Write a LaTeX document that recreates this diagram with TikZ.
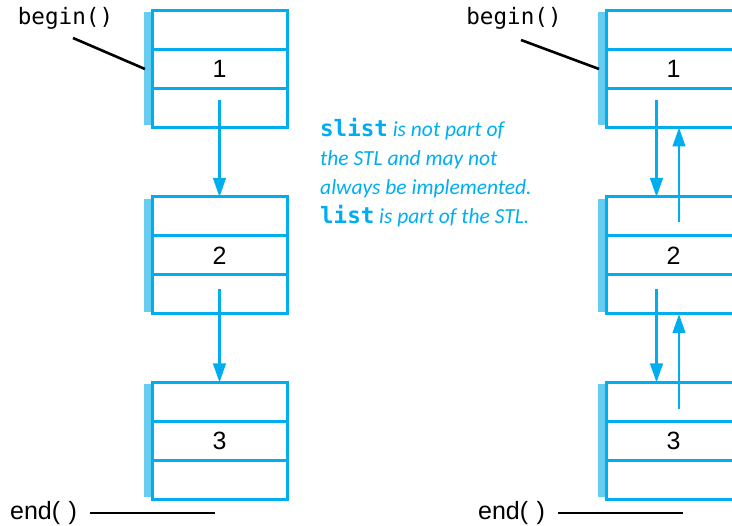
\documentclass[tikz,border=0pt]{standalone}
\usepackage{fontspec}
\setmainfont{Liberation Sans}
\newfontfamily\codefont{DejaVu Sans Mono}
\newfontfamily\notefont{Carlito}
\usetikzlibrary{arrows.meta,positioning,calc,backgrounds}
\definecolor{stlcyan}{RGB}{0,174,239}
\definecolor{stlshade}{RGB}{102,204,240}
\newcommand{\stlcode}[1]{{\codefont\bfseries\upshape\fontsize{22.5}{29}\selectfont #1}}

\begin{document}
\begin{tikzpicture}[x=1pt,y=-1pt,
  cell/.style={draw=stlcyan, line width=3pt, minimum width=135pt, minimum height=117pt, inner sep=0pt, outer sep=0pt, font=\fontsize{25}{25}\selectfont},
  link/.style={stlcyan, line width=2.6pt, -{Triangle[length=19pt,width=12.5pt]}},
  ptr/.style={black, line width=2.6pt}]
  \useasboundingbox (0,0) rectangle (732,526);
  \clip (0,0) rectangle (732,526);

  \node[cell] (a1) at (219.5,69) {1};
  \node[cell] (a2) at (219.5,255.5) {2};
  \node[cell] (a3) at (219.5,441) {3};
  \node[cell] (b1) at (673.5,69) {1};
  \node[cell] (b2) at (673.5,255.5) {2};
  \node[cell] (b3) at (673.5,441) {3};

  \foreach \n in {a1,a2,a3,b1,b2,b3} {
    \draw[stlcyan, line width=3pt] ([yshift=-39pt]\n.north west) -- ([yshift=-39pt]\n.north east);
    \draw[stlcyan, line width=3pt] ([yshift=39pt]\n.south west) -- ([yshift=39pt]\n.south east);
    \begin{scope}[on background layer]
      \fill[stlshade] ([xshift=-8pt,yshift=-2pt]\n.north west) rectangle ([yshift=2pt]\n.south west);
    \end{scope}
  }

  \draw[link] ([yshift=27pt]a1.south) -- (a2.north);
  \draw[link] ([yshift=25pt]a2.south) -- (a3.north);

  \draw[link] ([xshift=-17pt,yshift=27pt]b1.south) -- ([xshift=-17pt]b2.north);
  \draw[link] ([xshift=5.5pt,yshift=-25pt]b2.north) -- ([xshift=5.5pt]b1.south);
  \draw[link] ([xshift=-17pt,yshift=25pt]b2.south) -- ([xshift=-17pt]b3.north);
  \draw[link] ([xshift=5.5pt,yshift=-27pt]b3.north) -- ([xshift=5.5pt]b2.south);

  \node[font=\codefont\fontsize{22.6}{22.6}\selectfont] (la) at (65.5,18) {begin()};
  \node[font=\codefont\fontsize{22.6}{22.6}\selectfont] (lb) at (514,18) {begin()};
  \coordinate (pa) at (73,38);
  \coordinate (pb) at (521,40);
  \draw[ptr] (pa) -- ([xshift=-7pt]a1.west);
  \draw[ptr] (pb) -- ([xshift=-7pt]b1.west);

  \node[font=\fontsize{25}{25}\selectfont] (ea) at (43.5,513) {end(\,\,)};
  \node[font=\fontsize{25}{25}\selectfont] (eb) at (511.5,513) {end(\,\,)};
  \coordinate (qa) at (215,513);
  \coordinate (qb) at (683,513);
  \draw[ptr] ([xshift=10pt]ea.east) -- (qa);
  \draw[ptr] ([xshift=10pt]eb.east) -- (qb);

  \node[anchor=north west, align=left, inner sep=0pt, text=stlcyan, font=\notefont\itshape\fontsize{21.5}{29}\selectfont] (note) at (320,118)
    {\stlcode{slist} is not part of\\ the STL and may not\\ always be implemented.\\ \stlcode{list} is part of the STL.};
\end{tikzpicture}
\end{document}
